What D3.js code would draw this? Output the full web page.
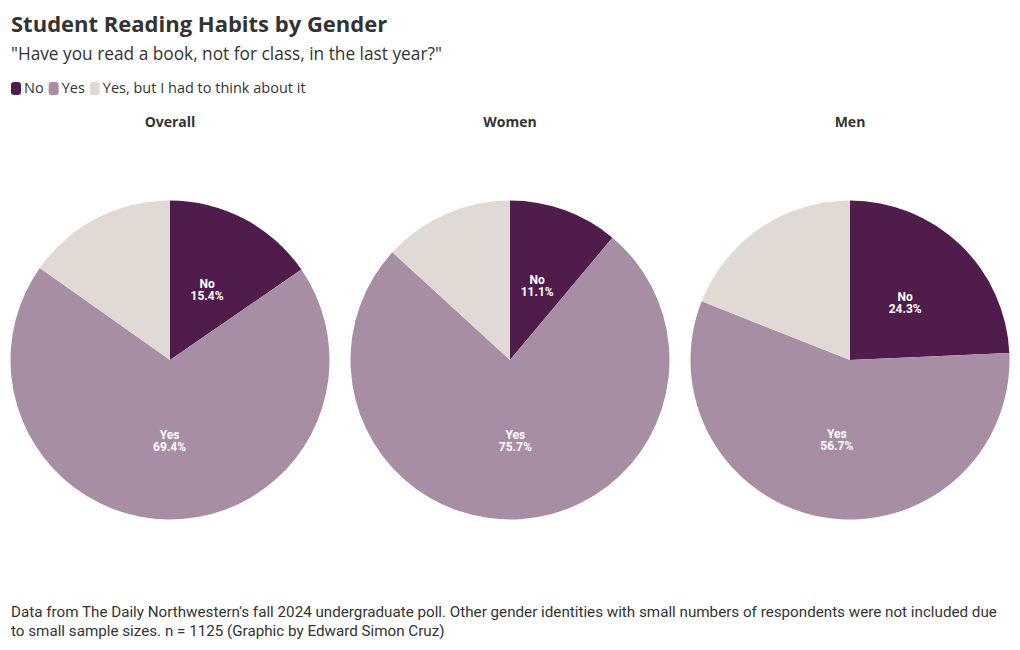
<!DOCTYPE html>
<html><head><meta charset="utf-8">
<script src="https://cdn.jsdelivr.net/npm/d3@7"></script>
<style>body{margin:0;background:#fff;} svg{display:block;}</style>
</head><body>
<script>
const categories = ["No", "Yes", "Yes, but I had to think about it"];
const groups = ["Overall", "Women", "Men"];
const noValues = [15.4, 11.1, 24.3];
const yesValues = [69.4, 75.7, 56.7];
const thinkValues = [15.2, 13.2, 19.0];
const colors = ["#4f1c4c", "#a88ea5", "#e1d9d4"];

const W = 1020, H = 650;
const svg = d3.select("body").append("svg").attr("width", W).attr("height", H);
const font = "'Open Sans', Roboto, sans-serif";
const lfont = "Roboto, sans-serif";

svg.append("text").attr("x", 11).attr("y", 32).text("Student Reading Habits by Gender")
  .attr("font-family", font).attr("font-weight", 700).attr("font-size", 22).attr("fill", "#333");
svg.append("text").attr("x", 11).attr("y", 60).text("\"Have you read a book, not for class, in the last year?\"")
  .attr("font-family", font).attr("font-size", 17.3).attr("fill", "#333");

// legend
const legend = svg.append("g").attr("transform", "translate(11,88)");
let lx = 0;
categories.forEach((c, i) => {
  const g = legend.append("g").attr("transform", `translate(${lx},0)`);
  g.append("rect").attr("x", 0).attr("y", -6).attr("width", 10).attr("height", 13).attr("rx", 3).attr("fill", colors[i]);
  const t = g.append("text").attr("x", 13).attr("y", 5).text(c)
    .attr("font-family", font).attr("font-size", 14.5).attr("fill", "#333");
  lx += 13 + t.node().getComputedTextLength() + 5;
});

const x = d3.scalePoint().domain(groups).range([170, 850]);
const r = 159.5, cy = 360;
const pie = d3.pie().sort(null).value(d => d.v);
const arc = d3.arc().innerRadius(0).outerRadius(r);

groups.forEach((gname, gi) => {
  const data = [
    {k: categories[0], v: noValues[gi], c: 0},
    {k: categories[1], v: yesValues[gi], c: 1},
    {k: categories[2], v: thinkValues[gi], c: 2}
  ];
  const g = svg.append("g").attr("transform", `translate(${x(gname)},${cy})`);
  svg.append("text").attr("x", x(gname)).attr("y", 127).attr("text-anchor", "middle").text(gname)
    .attr("font-family", font).attr("font-weight", 700).attr("font-size", 14).attr("fill", "#333");
  const arcs = pie(data);
  g.selectAll("path").data(arcs).join("path").attr("d", arc).attr("fill", d => colors[d.data.c]);
  arcs.filter(d => d.data.c < 2).forEach(d => {
    const [cx, cyy] = arc.centroid(d);
    const t = g.append("text").attr("x", cx).attr("y", cyy).attr("text-anchor", "middle")
      .attr("font-family", lfont).attr("font-weight", 700).attr("font-size", 12).attr("fill", "#fff");
    t.append("tspan").attr("x", cx).attr("dy", -1).text(d.data.k);
    t.append("tspan").attr("x", cx).attr("dy", 12).text(d.data.v.toFixed(1) + "%");
  });
});

const foot = svg.append("text").attr("font-family", lfont).attr("font-size", 15.2).attr("fill", "#333");
foot.append("tspan").attr("x", 11).attr("y", 617).text("Data from The Daily Northwestern's fall 2024 undergraduate poll. Other gender identities with small numbers of respondents were not included due");
foot.append("tspan").attr("x", 11).attr("y", 636).text("to small sample sizes. n = 1125 (Graphic by Edward Simon Cruz)");
</script>
</body></html>
